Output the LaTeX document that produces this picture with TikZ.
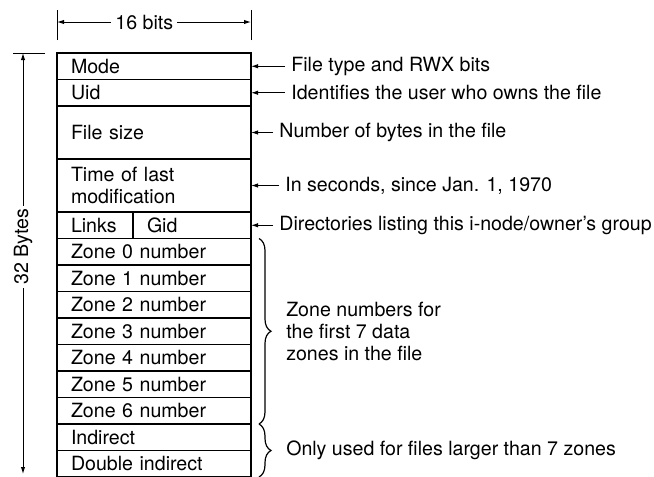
\documentclass[tikz,border=0pt]{standalone}
\usepackage{fontspec}
\setmainfont{TeX Gyre Heros}
\usetikzlibrary{arrows.meta, positioning, decorations.pathreplacing}
\tikzset{
  % one 16-bit word of the i-node
  wrd/.style={rectangle, draw, line width=0.8pt, inner xsep=7pt, inner ysep=0pt,
              outer sep=0pt, minimum width=97pt, text width=83pt,
              minimum height=13.25pt, align=left},
  two/.style={minimum height=26.5pt},
  note/.style={inner sep=3pt},
  lead/.style={-{Latex[length=3.5pt,width=2.2pt]}, line width=0.5pt},
  dim/.style={{Latex[length=3.5pt,width=2.2pt]}-{Latex[length=3.5pt,width=2.2pt]},
              line width=0.5pt},
  tick/.style={line width=0.5pt},
  brc/.style={decorate, decoration={brace, amplitude=6pt}, line width=0.6pt}
}

\begin{document}
\begin{tikzpicture}[x=0.5pt, y=-0.5pt, font=\fontsize{9.8}{11}\selectfont]
  \useasboundingbox (0,0) rectangle (654,477);

  \node[wrd, anchor=north west] (mode) at (57,53) {Mode};
  \node[wrd, below=0pt of mode] (uid) {Uid};
  \node[wrd, two, below=0pt of uid] (size) {File size};
  \node[wrd, two, below=0pt of size] (time) {Time of last\\modification};
  \node[wrd, minimum width=38pt, text width=24pt,
        below right=0pt and 0pt of time.south west] (lnk) {Links};
  \node[wrd, minimum width=59pt, text width=45pt, right=0pt of lnk] (gid) {Gid};
  \node[wrd, below right=0pt and 0pt of lnk.south west] (z0) {Zone 0 number};
  \foreach \i [count=\j from 0] in {1,...,6}
    \node[wrd, below=0pt of z\j] (z\i) {Zone \i\ number};
  \node[wrd, below=0pt of z6] (ind) {Indirect};
  \node[wrd, below=0pt of ind] (dind) {Double indirect};

  % what the words hold
  \node[note, right=17pt of mode] (nmode) {File type and RWX bits};
  \node[note, right=17pt of uid] (nuid) {Identifies the user who owns the file};
  \node[note, right=11pt of size] (nsize) {Number of bytes in the file};
  \node[note, right=14pt of time] (ntime) {In seconds, since Jan. 1, 1970};
  \node[note, right=11pt of gid] (ngid) {Directories listing this i-node/owner's group};
  \draw[lead] (nmode) -- (mode);
  \draw[lead] (nuid) -- (uid);
  \draw[lead] (nsize) -- (size);
  \draw[lead] (ntime) -- (time);
  \draw[lead] (ngid) -- (gid);

  \draw[brc] ([xshift=4pt]z0.north east) -- ([xshift=4pt]z6.south east)
    node[midway, right=10pt, align=left] (nzone)
    {Zone numbers for\\the first 7 data\\zones in the file};
  \draw[brc] ([xshift=4pt]ind.north east) -- ([xshift=4pt]dind.south east)
    node[midway, right=10pt] (nind) {Only used for files larger than 7 zones};

  % width: 16 bits
  \draw[tick] ([yshift=6.5pt]mode.north west) -- ++(0,-30);
  \draw[tick] ([yshift=6.5pt]mode.north east) -- ++(0,-30);
  \coordinate (wl) at ([yshift=15.5pt]mode.north west);
  \coordinate (wr) at ([yshift=15.5pt]mode.north east);
  \draw[dim] (wl) -- node[pos=0.45, fill=white, inner sep=2pt] {16 bits} (wr);

  % height: 32 bytes
  \draw[tick] ([xshift=-6pt]mode.north west) -- ++(-32,0);
  \coordinate (bt) at ([xshift=-17pt]mode.north west);
  \coordinate (bb) at ([xshift=-17pt, yshift=1.5pt]dind.south west);
  \draw[dim] (bt) -- node[pos=0.46, fill=white, rotate=90, inner sep=1.5pt] {32 Bytes} (bb);
\end{tikzpicture}
\end{document}
